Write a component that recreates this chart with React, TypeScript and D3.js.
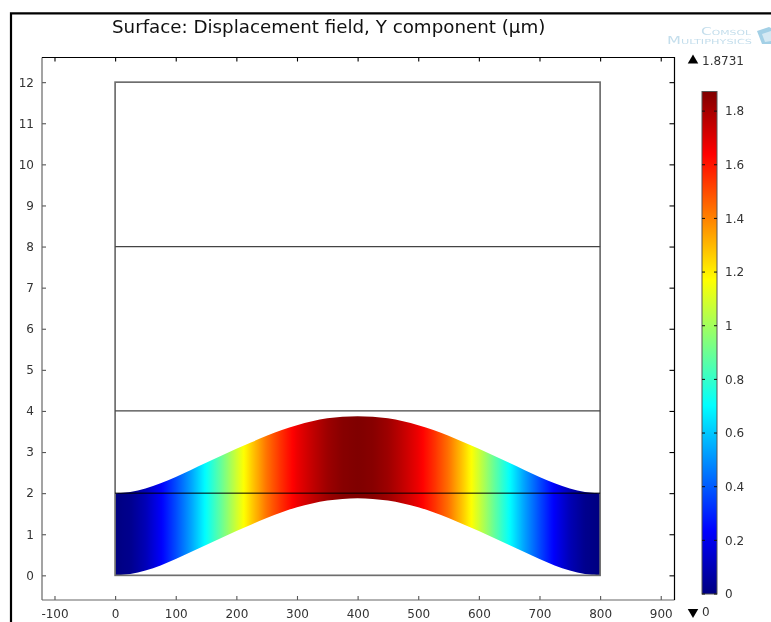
import React, { useEffect, useRef } from "react";
import * as d3 from "d3";

const width = 771;
const height = 622;

const titleText = "Surface: Displacement field, Y component (µm)";
const xTicks = [-100, 0, 100, 200, 300, 400, 500, 600, 700, 800, 900];
const yTicks = [0, 1, 2, 3, 4, 5, 6, 7, 8, 9, 10, 11, 12];
const barTicks = [0, 0.2, 0.4, 0.6, 0.8, 1, 1.2, 1.4, 1.6, 1.8];

// geometry of the three layers (um in x, um in y)
const layerX = [0, 800];
const layerLines = [4, 8];
const layerTop = 12;
const filmThickness = 2;

const stationX = [
  0, 25, 50, 75, 100, 125, 150, 175, 200, 225, 250, 275, 300, 325, 350, 375, 400,
  425, 450, 475, 500, 525, 550, 575, 600, 625, 650, 675, 700, 725, 750, 775, 800,
];
// how far the film edges are lifted
const edgeLift = [
  0, 0.03, 0.115, 0.24, 0.395, 0.565, 0.74, 0.91, 1.08, 1.24, 1.395, 1.535, 1.655, 1.75, 1.82, 1.86, 1.873,
  1.86, 1.82, 1.75, 1.655, 1.535, 1.395, 1.24, 1.08, 0.91, 0.74, 0.565, 0.395, 0.24, 0.115, 0.03, 0,
];
// field value from the colour bands
const displacement = [
  0, 0.025, 0.1, 0.22, 0.37, 0.53, 0.71, 0.89, 1.08, 1.26, 1.43, 1.56, 1.67, 1.75, 1.82, 1.86, 1.873,
  1.86, 1.82, 1.75, 1.67, 1.56, 1.43, 1.26, 1.08, 0.89, 0.71, 0.53, 0.37, 0.22, 0.1, 0.025, 0,
];
const maxValue = 1.8731;
const minValue = 0;

// rainbow table
const jetStops = [0, 0.125, 0.375, 0.625, 0.875, 1];
const jetColors = ["#000080", "#0000ff", "#00ffff", "#ffff00", "#ff0000", "#800000"];

export default function App() {
  const svgRef = useRef<SVGSVGElement>(null);

  useEffect(() => {
    const svg = d3.select(svgRef.current);
    svg.selectAll("*").remove();

    const font = "'DejaVu Sans', sans-serif";
    const box = { left: 42, right: 674.5, top: 57.5, bottom: 600 };

    const x = d3.scaleLinear().domain([-120.6, 922.7]).range([box.left, box.right]);
    const y = d3.scaleLinear().domain([-0.6, 12.6]).range([box.bottom, box.top]);
    const barY = d3.scaleLinear().domain([0, maxValue]).range([594, 91.5]);

    const jet = d3
      .scaleLinear<string>()
      .domain(jetStops.map((s) => s * maxValue))
      .range(jetColors)
      .clamp(true);

    // outer frame of the screenshot
    svg
      .append("path")
      .attr("d", `M11,${height} V13.3 H${width}`)
      .attr("fill", "none")
      .attr("stroke", "#000")
      .attr("stroke-width", 2.2);

    svg
      .append("text")
      .attr("x", 112)
      .attr("y", 32.5)
      .attr("font-family", font)
      .attr("font-size", 18.25)
      .attr("fill", "#111")
      .text(titleText);

    // logo
    const logo = svg
      .append("g")
      .attr("font-family", font)
      .attr("fill", "#c4deec")
      .style("font-variant", "small-caps");
    logo
      .append("text")
      .attr("x", 701)
      .attr("y", 34.5)
      .attr("font-size", 10)
      .attr("textLength", 50)
      .attr("lengthAdjust", "spacingAndGlyphs")
      .text("Comsol");
    logo
      .append("text")
      .attr("x", 667)
      .attr("y", 44)
      .attr("font-size", 10)
      .attr("textLength", 85)
      .attr("lengthAdjust", "spacingAndGlyphs")
      .text("Multiphysics");
    logo
      .append("path")
      .attr("d", "M757,31 L769,27 L771,28 V44 L762,44 Z")
      .attr("fill", "#a3d0e6");
    logo
      .append("path")
      .attr("d", "M762,34 L771,31 V41 L765,42 Z")
      .attr("fill", "#d5e9f3");

    // surface
    const defs = svg.append("defs");
    const gradient = defs
      .append("linearGradient")
      .attr("id", "surfaceFill")
      .attr("gradientUnits", "userSpaceOnUse")
      .attr("x1", x(layerX[0]))
      .attr("x2", x(layerX[1]))
      .attr("y1", 0)
      .attr("y2", 0);
    const valueAt = d3.scaleLinear().domain(stationX).range(displacement);
    d3.range(0, 801, 4).forEach((sx) => {
      gradient
        .append("stop")
        .attr("offset", sx / 800)
        .attr("stop-color", jet(valueAt(sx)));
    });

    const area = d3
      .area<number>()
      .x((_, i) => x(stationX[i]))
      .y0((d) => y(d))
      .y1((d) => y(d + filmThickness))
      .curve(d3.curveCatmullRom);
    svg.append("path").attr("d", area(edgeLift)).attr("fill", "url(#surfaceFill)");

    // layer outlines
    svg
      .append("rect")
      .attr("x", x(layerX[0]))
      .attr("y", y(layerTop))
      .attr("width", x(layerX[1]) - x(layerX[0]))
      .attr("height", y(0) - y(layerTop))
      .attr("fill", "none")
      .attr("stroke", "#6e6e6e")
      .attr("stroke-width", 1.7);
    layerLines.forEach((v) => {
      svg
        .append("line")
        .attr("x1", x(layerX[0]))
        .attr("x2", x(layerX[1]))
        .attr("y1", y(v))
        .attr("y2", y(v))
        .attr("stroke", "#444")
        .attr("stroke-width", 1.3);
    });
    svg
      .append("line")
      .attr("x1", x(layerX[0]))
      .attr("x2", x(layerX[1]))
      .attr("y1", y(filmThickness))
      .attr("y2", y(filmThickness))
      .attr("stroke", "#000")
      .attr("stroke-width", 1);

    // axes: ticks point inward on all four sides
    const styleAxis = (g: any, color: string, labels: boolean) => {
      g.select(".domain").remove();
      g.selectAll(".tick line").attr("stroke", color).attr("stroke-width", 1.1);
      g.selectAll(".tick text")
        .attr("font-family", font)
        .attr("font-size", 12)
        .attr("fill", "#333")
        .style("display", labels ? null : "none");
    };

    svg
      .append("g")
      .attr("transform", `translate(0,${box.bottom})`)
      .call(
        d3.axisBottom(x).tickValues(xTicks).tickFormat((d) => String(d)).tickSizeInner(-4).tickPadding(9),
      )
      .call((g) => styleAxis(g, "#555", true));
    svg
      .append("g")
      .attr("transform", `translate(0,${box.top})`)
      .call(d3.axisTop(x).tickValues(xTicks).tickSizeInner(-4))
      .call((g) => styleAxis(g, "#000", false));
    svg
      .append("g")
      .attr("transform", `translate(${box.left},0)`)
      .call(d3.axisLeft(y).tickValues(yTicks).tickFormat((d) => String(d)).tickSizeInner(-4).tickPadding(8))
      .call((g) => styleAxis(g, "#555", true));
    svg
      .append("g")
      .attr("transform", `translate(${box.right},0)`)
      .call(d3.axisRight(y).tickValues(yTicks).tickSizeInner(-5))
      .call((g) => styleAxis(g, "#000", false));

    const border = (d: string, color: string) =>
      svg.append("path").attr("d", d).attr("fill", "none").attr("stroke", color).attr("stroke-width", 1.2);
    border(`M${box.left},${box.bottom} V${box.top}`, "#666");
    border(`M${box.left},${box.bottom} H${box.right}`, "#666");
    border(`M${box.left},${box.top} H${box.right} V${box.bottom}`, "#000");

    // colour bar
    const barLeft = 702;
    const barRight = 717;
    const barGradient = defs
      .append("linearGradient")
      .attr("id", "barFill")
      .attr("x1", 0)
      .attr("x2", 0)
      .attr("y1", 1)
      .attr("y2", 0);
    jetStops.forEach((s, i) => {
      barGradient.append("stop").attr("offset", s).attr("stop-color", jetColors[i]);
    });
    svg
      .append("rect")
      .attr("x", barLeft)
      .attr("y", barY(maxValue))
      .attr("width", barRight - barLeft)
      .attr("height", barY(0) - barY(maxValue))
      .attr("fill", "url(#barFill)")
      .attr("stroke", "#555")
      .attr("stroke-width", 1);

    const barAxis = svg
      .append("g")
      .selectAll("g")
      .data(barTicks)
      .enter()
      .append("g")
      .attr("transform", (d) => `translate(0,${barY(d)})`);
    barAxis
      .append("path")
      .attr("d", `M${barLeft},0 h3 M${barRight},0 h-3`)
      .attr("stroke", "#111")
      .attr("stroke-width", 1);
    barAxis
      .append("text")
      .attr("x", 725)
      .attr("dy", "0.35em")
      .attr("font-family", font)
      .attr("font-size", 12)
      .attr("fill", "#333")
      .text((d) => String(d));

    // max / min markers
    const markers = [
      { value: maxValue, py: 60.5, type: 0 },
      { value: minValue, py: 612, type: 180 },
    ];
    markers.forEach((m) => {
      svg
        .append("path")
        .attr("d", d3.symbol(d3.symbolTriangle, 48)())
        .attr("transform", `translate(693,${m.py}) rotate(${m.type})`)
        .attr("fill", "#000");
      svg
        .append("text")
        .attr("x", 702)
        .attr("y", m.py)
        .attr("dy", "0.35em")
        .attr("font-family", font)
        .attr("font-size", 12)
        .attr("fill", "#333")
        .text(String(m.value));
    });
  }, []);

  return (
    <svg
      ref={svgRef}
      width={width}
      height={height}
      style={{ position: "absolute", left: 0, top: 0, background: "#fff", filter: "blur(0.35px)" }}
    />
  );
}
